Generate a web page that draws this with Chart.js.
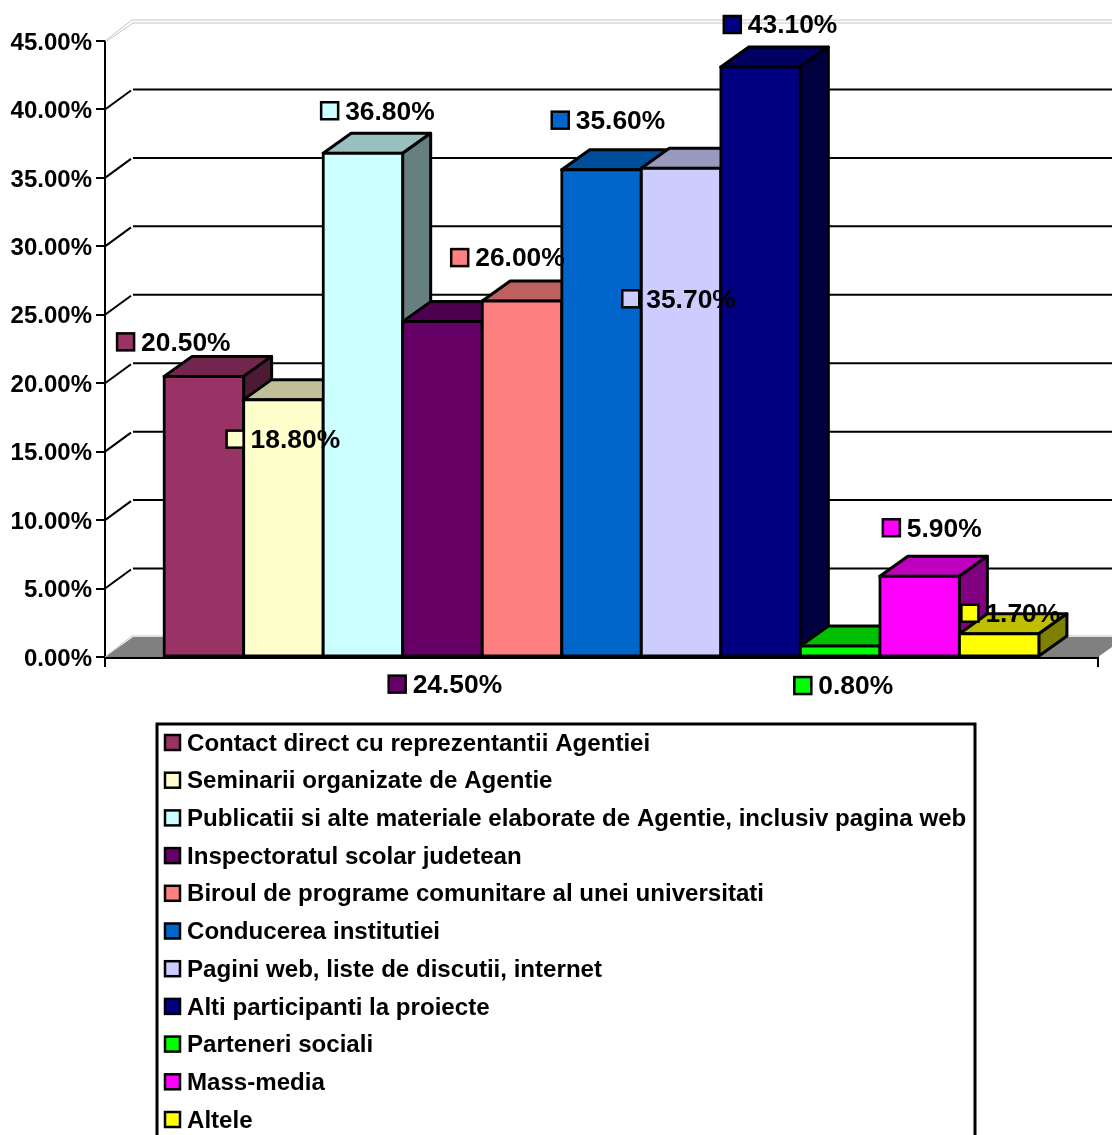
<!DOCTYPE html>
<html>
<head>
<meta charset="utf-8">
<title>Chart</title>
<script src="https://cdn.jsdelivr.net/npm/chart.js@4"></script>
<style>
  html, body { margin: 0; padding: 0; background: #fff; overflow: hidden; }
  canvas { display: block; }
</style>
</head>
<body>
<canvas id="chart" width="1112" height="1135"></canvas>
<script>
const categories = [""];
const seriesNames = [
  "Contact direct cu reprezentantii Agentiei",
  "Seminarii organizate de Agentie",
  "Publicatii si alte materiale elaborate de Agentie, inclusiv pagina web",
  "Inspectoratul scolar judetean",
  "Biroul de programe comunitare al unei universitati",
  "Conducerea institutiei",
  "Pagini web, liste de discutii, internet",
  "Alti participanti la proiecte",
  "Parteneri sociali",
  "Mass-media",
  "Altele",
];
const seriesValues = [20.5, 18.8, 36.8, 24.5, 26.0, 35.6, 35.7, 43.1, 0.8, 5.9, 1.7];
const seriesColors = [
  "#993366", "#FFFFCC", "#CCFFFF", "#660066", "#FF8080", "#0066CC",
  "#CCCCFF", "#000080", "#00FF00", "#FF00FF", "#FFFF00",
];

// where each value label sits, relative to the top left corner of its bar
const labelOffsets = [
  [-47, -35], [-17, 39], [-2, -43], [-14, 362], [-31, -44], [-10, -50],
  [-19, 130], [3, -43], [-6, 39], [3, -49], [2, -21],
];

const LEGEND_FONT = "bold 24.1px 'Liberation Sans', Arial, sans-serif";
const VALUE_FONT = "bold 26.4px 'Liberation Sans', Arial, sans-serif";
const DEPTH_X = 28;
const DEPTH_Y = 20;

function shade(hex, f) {
  const n = parseInt(hex.slice(1), 16);
  const c = [n >> 16, (n >> 8) & 255, n & 255].map((v) => Math.round(v * f));
  return `rgb(${c[0]},${c[1]},${c[2]})`;
}

function poly(ctx, pts, fill, stroke, width) {
  ctx.beginPath();
  pts.forEach((p, i) => (i ? ctx.lineTo(p[0], p[1]) : ctx.moveTo(p[0], p[1])));
  if (fill) {
    ctx.closePath();
    ctx.fillStyle = fill;
    ctx.fill();
  }
  if (stroke) {
    ctx.strokeStyle = stroke;
    ctx.lineWidth = width;
    ctx.lineJoin = "round";
    ctx.stroke();
  }
}

const wallPlugin = {
  id: "wall",
  // chart.js paints the first dataset last, the boxes need left to right
  beforeDatasetDraw() {
    return false;
  },
  beforeDatasetsDraw(chart) {
    const { ctx, scales } = chart;
    const left = scales.x.left;
    const right = scales.x.right;
    const bottom = scales.y.getPixelForValue(0);
    ctx.save();
    // back wall grid and grey floor
    poly(ctx, [[left, bottom], [left + DEPTH_X, bottom - DEPTH_Y], [right + DEPTH_X, bottom - DEPTH_Y], [right, bottom]], "#808080");
    scales.y.ticks.forEach((t) => {
      const y = scales.y.getPixelForValue(t.value);
      if (t.value === 0 || t.value === scales.y.max) {
        poly(ctx, [[left, y], [left + DEPTH_X - 1, y - DEPTH_Y - 1], [right + DEPTH_X, y - DEPTH_Y - 1]], null, "#c4c4c4", 1);
        if (t.value !== 0) {
          poly(ctx, [[left + 2, y], [left + DEPTH_X, y - DEPTH_Y + 2], [right + DEPTH_X, y - DEPTH_Y + 2]], null, "#c4c4c4", 1);
        }
        return;
      }
      poly(ctx, [[left, y], [left + DEPTH_X - 2, y - DEPTH_Y + 1]], null, "#000", 2);
      poly(ctx, [[left + DEPTH_X, y - DEPTH_Y], [right + DEPTH_X, y - DEPTH_Y]], null, "#000", 2);
    });
    // top and side of each box, then its front face
    seriesValues.forEach((v, i) => {
      const bar = chart.getDatasetMeta(i).data[0];
      const half = bar.width / 2;
      const x0 = bar.x - half;
      const x1 = bar.x + half;
      const top = bar.y;
      const base = bar.base;
      poly(ctx, [[x0, top], [x0 + DEPTH_X, top - DEPTH_Y], [x1 + DEPTH_X, top - DEPTH_Y], [x1, top]], shade(seriesColors[i], 0.75), "#000", 3);
      poly(ctx, [[x1, top], [x1 + DEPTH_X, top - DEPTH_Y], [x1 + DEPTH_X, base - DEPTH_Y], [x1, base]], shade(seriesColors[i], 0.5), "#000", 3);
      bar.draw(ctx);
    });
    ctx.restore();
  },
  afterDatasetsDraw(chart) {
    const { ctx } = chart;
    ctx.save();
    ctx.textBaseline = "middle";
    ctx.textAlign = "left";
    ctx.font = VALUE_FONT;
    seriesValues.forEach((v, i) => {
      const bar = chart.getDatasetMeta(i).data[0];
      const x = bar.x - bar.width / 2 + labelOffsets[i][0];
      const y = bar.y + labelOffsets[i][1];
      ctx.fillStyle = seriesColors[i];
      ctx.strokeStyle = "#000";
      ctx.lineWidth = 2.5;
      ctx.fillRect(x, y - 8, 17, 17);
      ctx.strokeRect(x, y - 8, 17, 17);
      ctx.fillStyle = "#000";
      ctx.fillText(v.toFixed(2) + "%", x + 24, y + 2);
    });

    // legend box, its lower edge falls off the page
    ctx.font = LEGEND_FONT;
    ctx.strokeStyle = "#000";
    ctx.lineWidth = 3;
    ctx.fillStyle = "#fff";
    ctx.fillRect(157, 724, 818, 420);
    ctx.strokeRect(157, 724, 818, 420);
    ctx.lineWidth = 2.5;
    seriesNames.forEach((name, i) => {
      const y = 743 + i * 37.7;
      ctx.fillStyle = seriesColors[i];
      ctx.fillRect(165, y - 8, 15, 15);
      ctx.strokeRect(165, y - 8, 15, 15);
      ctx.fillStyle = "#000";
      ctx.fillText(name, 187, y + 1);
    });
    ctx.restore();
  },
};

new Chart(document.getElementById("chart").getContext("2d"), {
  type: "bar",
  plugins: [wallPlugin],
  data: {
    labels: categories,
    datasets: seriesNames.map((name, i) => ({
      label: name,
      data: [seriesValues[i]],
      backgroundColor: seriesColors[i],
      borderColor: "#000",
      borderWidth: 3,
      inflateAmount: 1.5,
      borderSkipped: false,
      categoryPercentage: 0.881,
      barPercentage: 1,
    })),
  },
  options: {
    responsive: false,
    animation: false,
    layout: { padding: { left: 0, top: 41, right: 14, bottom: 468 } },
    plugins: { legend: { display: false }, tooltip: { enabled: false } },
    scales: {
      x: {
        z: 1,
        border: { color: "#000", width: 3 },
        grid: { offset: true, drawOnChartArea: false, color: "#000", tickLength: 10, lineWidth: 2 },
        ticks: { display: false },
        afterFit(scale) { scale.height = 10; },
      },
      y: {
        min: 0,
        max: 45,
        border: { color: "#000", width: 2 },
        grid: { drawOnChartArea: false, color: "#000", tickLength: 9, lineWidth: 2 },
        ticks: {
          stepSize: 5,
          padding: 4,
          labelOffset: 2,
          color: "#000",
          font: { family: "'Liberation Sans', Arial, sans-serif", size: 24, weight: "bold" },
          callback: (v) => v.toFixed(2) + "%",
        },
        afterFit(scale) { scale.width = 105; },
      },
    },
  },
});
</script>
</body>
</html>
